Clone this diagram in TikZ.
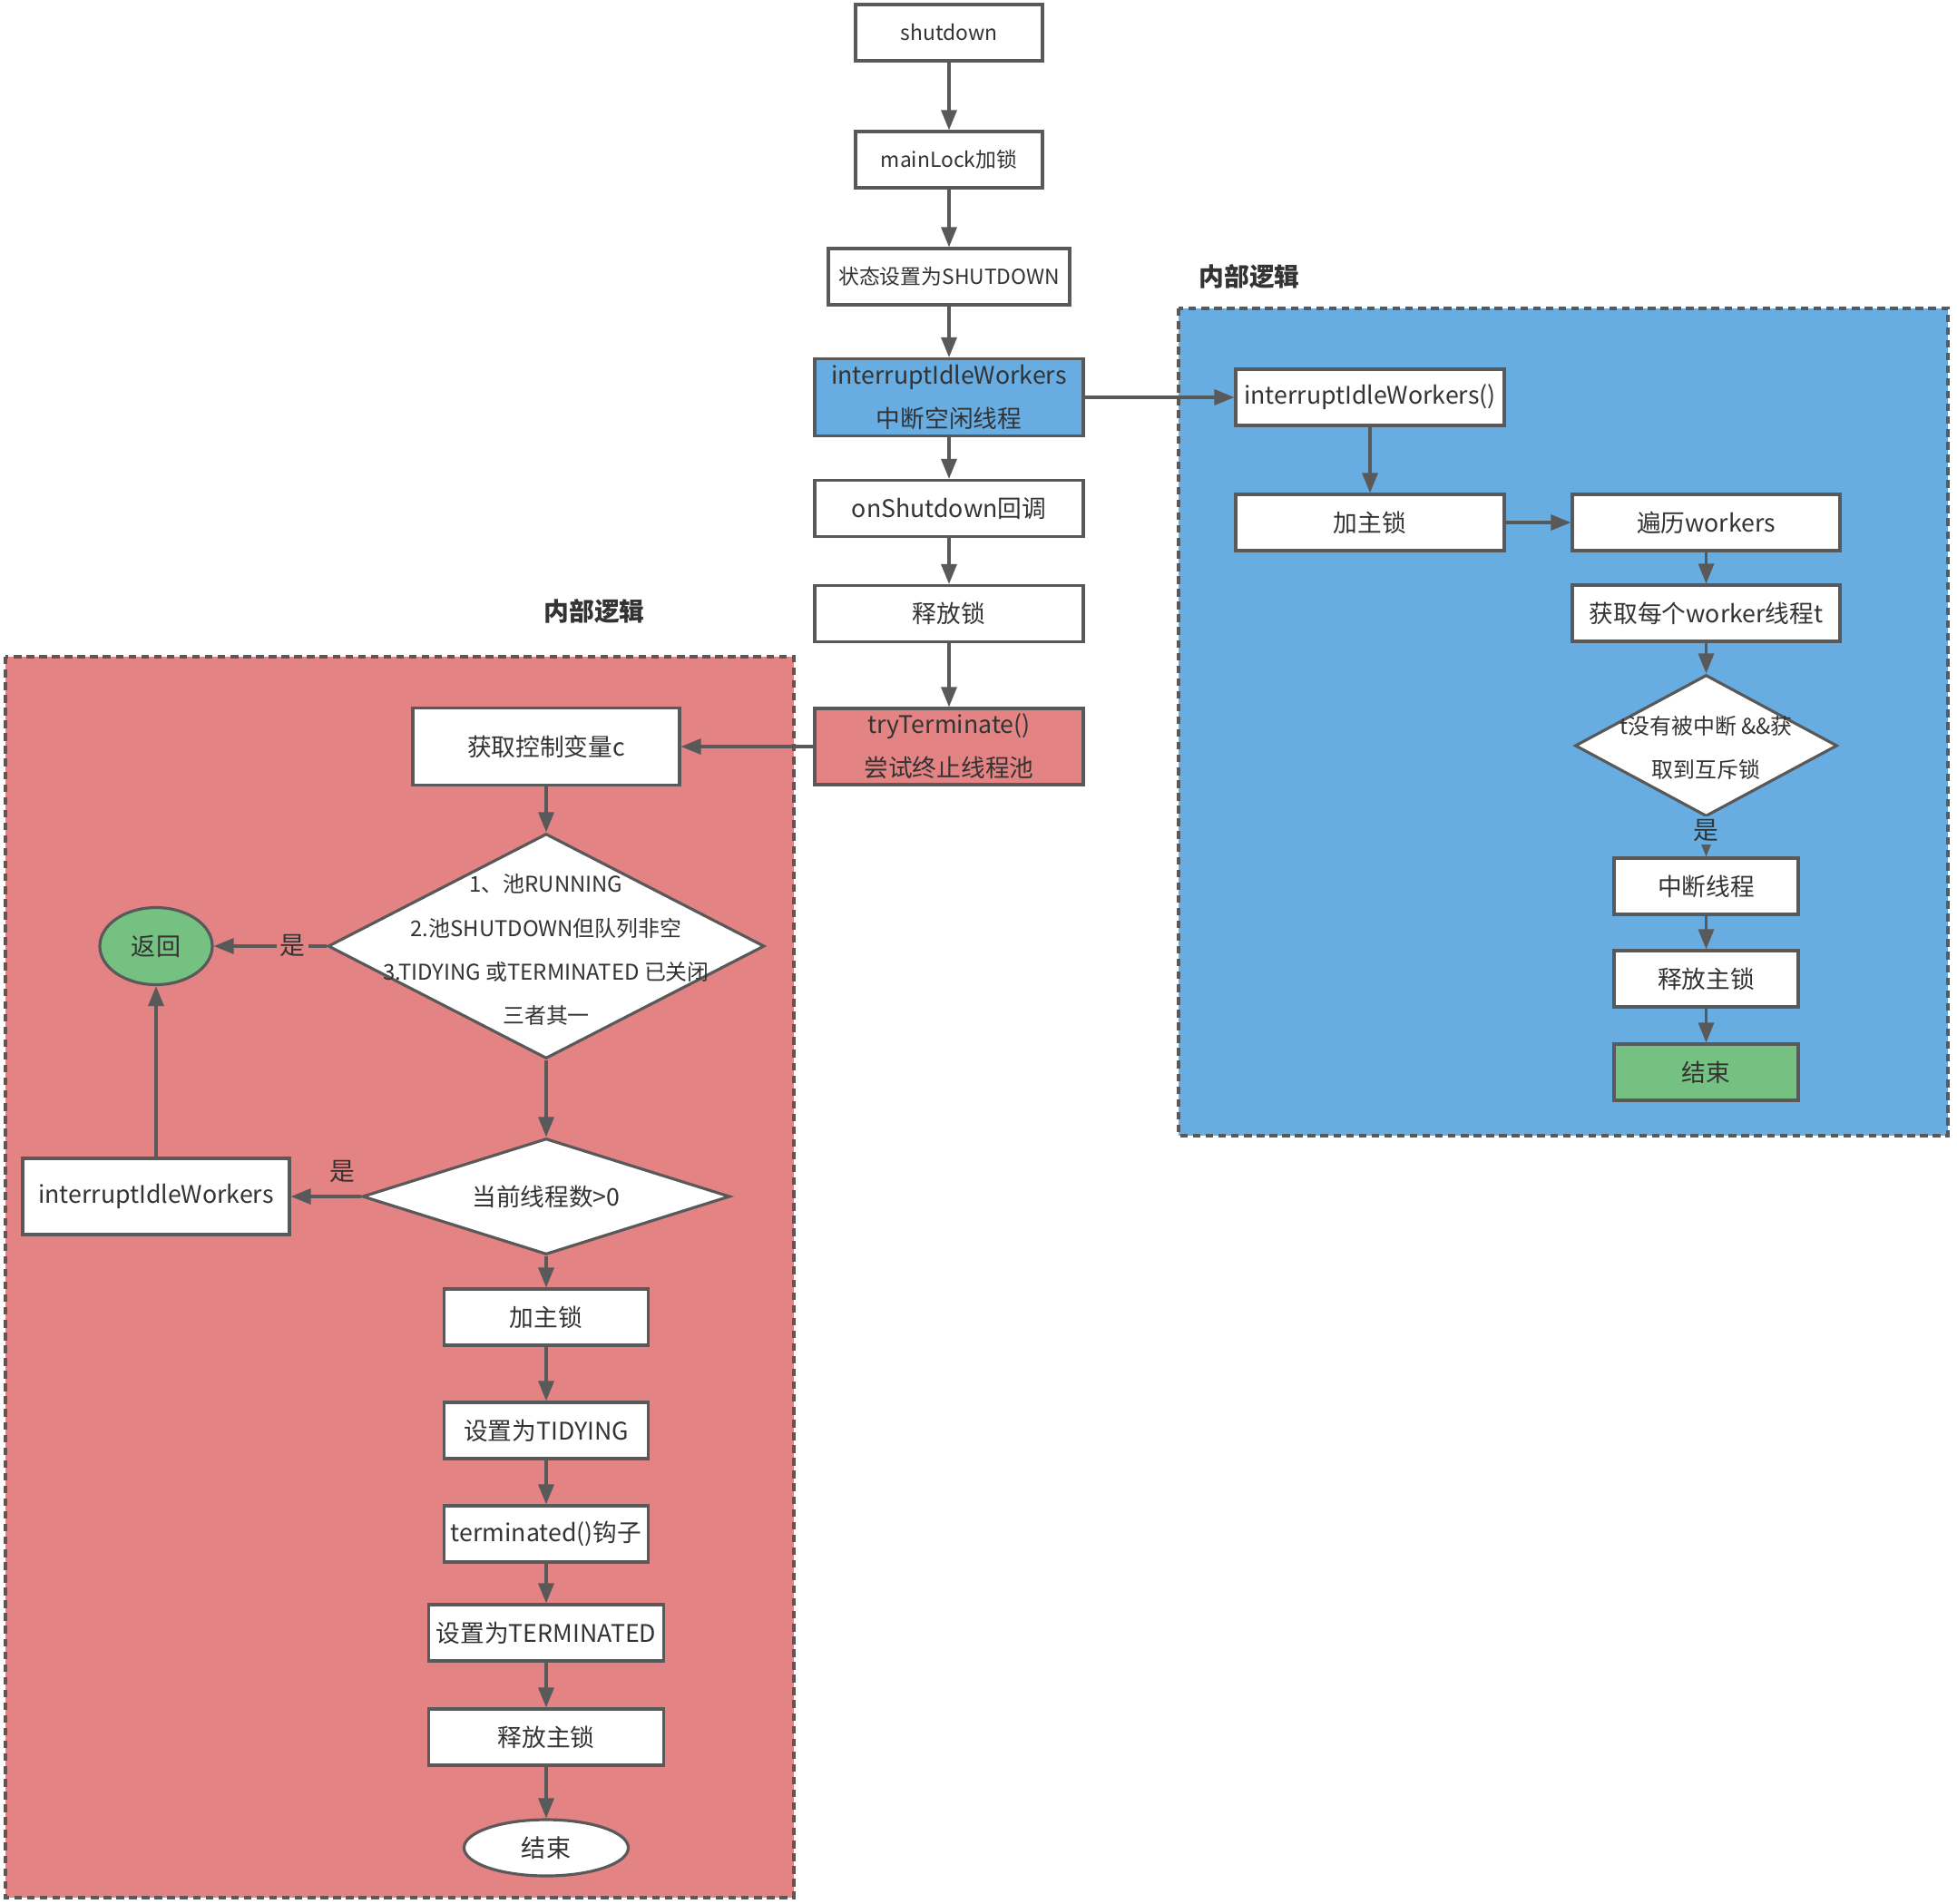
\documentclass[tikz,border=0pt]{standalone}
\usepackage{fontspec}
\setmainfont{Noto Sans CJK SC}
\usetikzlibrary{arrows.meta, shapes.geometric}

\definecolor{linegray}{HTML}{595959}
\definecolor{txtgray}{HTML}{333333}
\definecolor{bluebg}{HTML}{67ADE2}
\definecolor{redbg}{HTML}{E38383}
\definecolor{greenbg}{HTML}{75C181}

\begin{document}
\begin{tikzpicture}[
        proc/.style={draw=linegray, line width=0.9pt, rectangle, fill=white, minimum width=2.96cm, minimum height=0.62cm, align=center, inner sep=0pt, text=txtgray, font=\fontsize{7.6}{13.7}\selectfont},
        small/.style={font=\fontsize{6.5}{12}\selectfont},
        decision/.style={draw=linegray, line width=0.9pt, diamond, fill=white, inner sep=0pt},
        terminal/.style={draw=linegray, line width=0.9pt, ellipse, fill=white, inner sep=0pt, text=txtgray, font=\fontsize{7.7}{13.7}\selectfont},
        cond/.style={align=center, text=txtgray, font=\fontsize{6.8}{13.7}\selectfont},
        tag/.style={text=txtgray, font=\fontsize{7.9}{9}\selectfont, inner sep=1pt},
        heading/.style={font=\fontsize{7.9}{9}\selectfont\bfseries, text=txtgray},
        frame/.style={draw=linegray, line width=0.9pt, dash pattern=on 2.4pt off 1.6pt},
        arrow/.style={-{Triangle[length=2.2mm, width=1.7mm]}, line width=0.9pt, draw=linegray}
    ]
        \useasboundingbox (0,0) rectangle (21.57,-20.98);

        % dashed areas
        \draw[frame, fill=bluebg] (12.99,-3.40) rectangle (21.47,-12.52);
        \draw[frame, fill=redbg] (0.06,-7.24) rectangle (8.75,-20.92);
        \node[heading] (hdB) at (13.77,-3.05) {内部逻辑};
        \node[heading] (hdR) at (6.55,-6.74) {内部逻辑};

        % main flow
        \node[proc, small, minimum width=2.06cm] (shut) at (10.46,-0.36) {shutdown};
        \node[proc, small, minimum width=2.06cm] (lock) at (10.46,-1.76) {mainLock加锁};
        \node[proc, small, minimum width=2.66cm] (state) at (10.46,-3.05) {状态设置为SHUTDOWN};
        \node[proc, fill=bluebg, minimum height=0.85cm] (idle) at (10.46,-4.38) {interruptIdleWorkers\\中断空闲线程};
        \node[proc] (onshut) at (10.46,-5.605) {onShutdown回调};
        \node[proc] (unlock) at (10.46,-6.765) {释放锁};
        \node[proc, fill=redbg, minimum height=0.84cm] (tryterm) at (10.46,-8.23) {tryTerminate()\\尝试终止线程池};

        \draw[arrow] (shut) -- (lock);
        \draw[arrow] (lock) -- (state);
        \draw[arrow] (state) -- (idle);
        \draw[arrow] (idle) -- (onshut);
        \draw[arrow] (onshut) -- (unlock);
        \draw[arrow] (unlock) -- (tryterm);

        % interruptIdleWorkers
        \node[proc] (iiw) at (15.10,-4.38) {interruptIdleWorkers()};
        \node[proc] (lockB) at (15.10,-5.76) {加主锁};
        \node[proc, minimum width=2.95cm] (walk) at (18.805,-5.76) {遍历workers};
        \node[proc, minimum width=2.95cm] (each) at (18.805,-6.76) {获取每个worker线程t};
        \node[decision, minimum width=2.89cm, minimum height=1.56cm] (chkB) at (18.805,-8.22) {};
        \node[cond] (chkBtxt) at (18.805,-8.24) {t没有被中断 \&\&获\\取到互斥锁};
        \node[proc, minimum width=2.03cm] (intr) at (18.805,-9.77) {中断线程};
        \node[proc, minimum width=2.03cm] (relB) at (18.805,-10.79) {释放主锁};
        \node[proc, minimum width=2.03cm, fill=greenbg] (endB) at (18.805,-11.82) {结束};

        \draw[arrow] (idle) -- (iiw);
        \draw[arrow] (iiw) -- (lockB);
        \draw[arrow] (lockB) -- (walk);
        \draw[arrow] (walk) -- (each);
        \draw[arrow] (each) -- (chkB);
        \draw[arrow] (chkB) -- node[tag, fill=bluebg, pos=0.33] {是} (intr);
        \draw[arrow] (intr) -- (relB);
        \draw[arrow] (relB) -- (endB);

        % tryTerminate
        \node[proc, minimum width=2.94cm, minimum height=0.85cm] (getc) at (6.02,-8.23) {获取控制变量c};
        \node[decision, minimum width=4.81cm, minimum height=2.48cm] (chk1) at (6.02,-10.43) {};
        \node[cond] (chk1txt) at (6.02,-10.47) {1、池RUNNING\\2.池SHUTDOWN但队列非空\\3.TIDYING 或TERMINATED 已关闭\\三者其一};
        \node[terminal, fill=greenbg, minimum width=1.24cm, minimum height=0.85cm] (ret) at (1.72,-10.43) {返回};
        \node[decision, minimum width=4.05cm, minimum height=1.28cm] (chk2) at (6.02,-13.19) {};
        \node[cond, font=\fontsize{7.6}{9}\selectfont] (chk2txt) at (6.02,-13.19) {当前线程数>0};
        \node[proc, minimum width=2.94cm, minimum height=0.84cm] (iiwL) at (1.72,-13.19) {interruptIdleWorkers};
        \node[proc, minimum width=2.25cm] (lockR) at (6.02,-14.52) {加主锁};
        \node[proc, minimum width=2.25cm] (tidy) at (6.02,-15.77) {设置为TIDYING};
        \node[proc, minimum width=2.25cm] (hook) at (6.02,-16.91) {terminated()钩子};
        \node[proc, minimum width=2.59cm] (term) at (6.02,-18.00) {设置为TERMINATED};
        \node[proc, minimum width=2.59cm] (relR) at (6.02,-19.15) {释放主锁};
        \node[terminal, minimum width=1.81cm, minimum height=0.62cm] (endR) at (6.02,-20.37) {结束};

        \draw[arrow] (tryterm) -- (getc);
        \draw[arrow] (getc) -- (chk1);
        \draw[arrow] (chk1) -- node[tag, fill=redbg, pos=0.3] {是} (ret);
        \draw[arrow] (chk1) -- (chk2);
        \draw[arrow] (chk2) -- node[tag, pos=0.27, above, yshift=0.1cm] {是} (iiwL);
        \draw[arrow] (iiwL) -- (ret);
        \draw[arrow] (chk2) -- (lockR);
        \draw[arrow] (lockR) -- (tidy);
        \draw[arrow] (tidy) -- (hook);
        \draw[arrow] (hook) -- (term);
        \draw[arrow] (term) -- (relR);
        \draw[arrow] (relR) -- (endR);

    \end{tikzpicture}
\end{document}
